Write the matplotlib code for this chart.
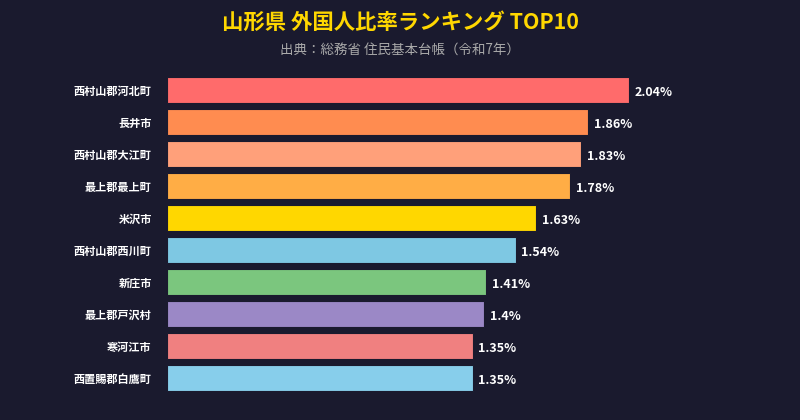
import matplotlib
matplotlib.use('Agg')
import matplotlib.pyplot as plt

plt.rcParams['font.family'] = ['Noto Sans CJK JP', 'DejaVu Sans']

# data
names = ['西村山郡河北町', '長井市', '西村山郡大江町', '最上郡最上町', '米沢市',
         '西村山郡西川町', '新庄市', '最上郡戸沢村', '寒河江市', '西置賜郡白鷹町']
rates = [2.04, 1.86, 1.83, 1.78, 1.63, 1.54, 1.41, 1.4, 1.35, 1.35]
labels = ['2.04%', '1.86%', '1.83%', '1.78%', '1.63%', '1.54%', '1.41%', '1.4%', '1.35%', '1.35%']
colors = ['#FF6B6B', '#FF8C50', '#FFA07A', '#FFAD45', '#FFD700',
          '#7EC8E3', '#7BC67E', '#9B88C6', '#F08080', '#87CEEB']

bg = '#1a1a2e'
W, H = 800, 420
fig = plt.figure(figsize=(W / 100, H / 100), dpi=100, facecolor=bg)

# axes in pixel coordinates: x from 167 to 780, bars from y=74 to y=394
left, right, top, bottom = 167, 780, 74, 394
ax = fig.add_axes([left / W, 1 - bottom / H, (right - left) / W, (bottom - top) / H])
ax.set_facecolor(bg)

y = list(range(len(names)))
ax.barh(y, rates, height=0.84, color=colors, edgecolor=bg, linewidth=0.8)
ax.set_ylim(len(names) - 0.5, -0.5)
ax.set_xlim(0, (right - left) / 226.5)

for i, (v, t) in enumerate(zip(rates, labels)):
    ax.text(v + 0.025, i + 0.08, t, color='white', fontsize=9, fontweight='bold',
            va='center', ha='left')

ax.set_yticks(y)
ax.set_yticklabels(names, color='white', fontsize=8, fontweight='bold')
ax.tick_params(axis='y', length=0, pad=11)
ax.set_xticks([])
for s in ax.spines.values():
    s.set_visible(False)

fig.text(0.5, 1 - 22 / H, '山形県 外国人比率ランキング TOP10', color='#FFD700',
         fontsize=15.4, fontweight='bold', ha='center', va='center')
fig.text(0.5, 1 - 50 / H, '出典：総務省 住民基本台帳（令和7年）', color='#aaaaaa',
         fontsize=9.7, ha='center', va='center')

fig.savefig('out.png', dpi=100, facecolor=bg)
